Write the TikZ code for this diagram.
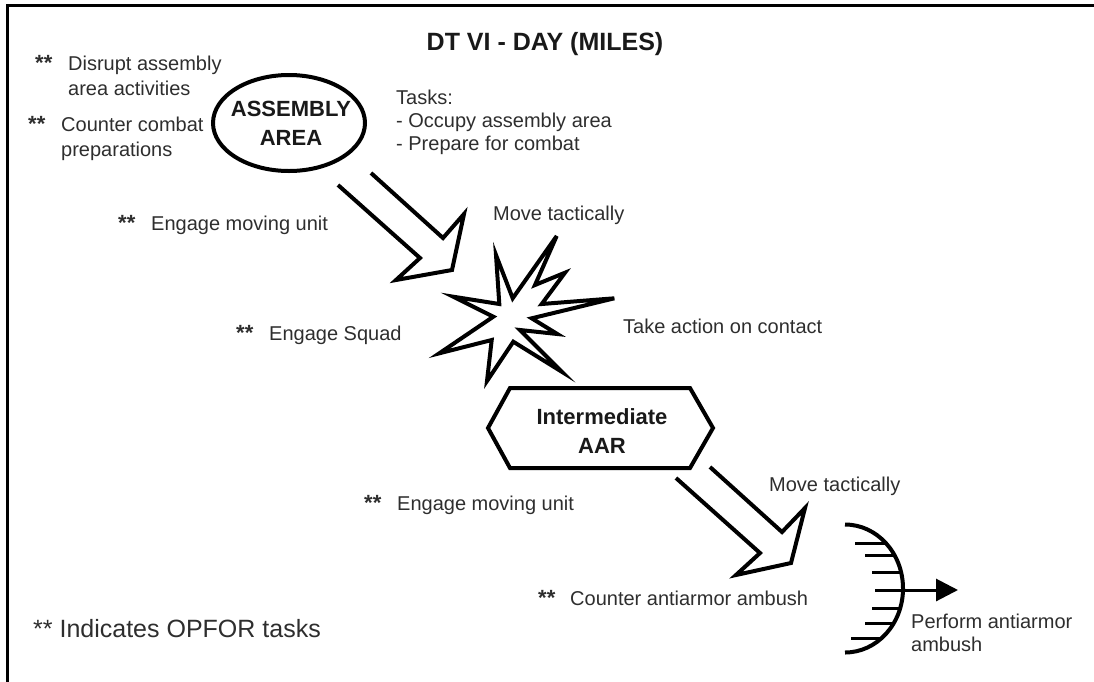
\documentclass[tikz,border=0pt]{standalone}
\usepackage{fontspec}
\setmainfont{Liberation Sans}
\usetikzlibrary{shapes.geometric,arrows.meta}
\definecolor{txt}{gray}{0.18}
\newcommand\opst{{\bfseries\fontsize{22}{25}\selectfont **}}
\begin{document}
\begin{tikzpicture}[x=1pt,y=-1pt,
  lbl/.style={inner sep=0pt, anchor=base west, text=txt, font=\fontsize{20}{25}\selectfont},
  lblt/.style={lbl, font=\fontsize{20}{23}\selectfont},
  nodetext/.style={text=black!90, font=\bfseries\fontsize{22}{29}\selectfont, align=center},
  shapeline/.style={line width=4pt, line join=miter, draw=black},
  frameline/.style={line width=3pt, draw=black},
  tick/.style={line width=3pt, draw=black}]
\useasboundingbox (0,0) rectangle (1094,681);
% frame
\draw[frameline] (7,682) -- (7,5) -- (1095,5);
% title
\node[inner sep=0pt, anchor=base, text=black!90, font=\bfseries\fontsize{25}{30}\selectfont] (title) at (545,50) {DT VI - DAY (MILES)};
% OPFOR labels
\node[lbl] (d1) at (35,70) {\begin{tabular}[t]{@{}p{33pt}@{}l@{}}\opst & Disrupt assembly\\ & area activities\end{tabular}};
\node[lbl] (d2) at (28,131) {\begin{tabular}[t]{@{}p{33pt}@{}l@{}}\opst & Counter combat\\ & preparations\end{tabular}};
\node[lbl] (e1) at (118,230) {\makebox[33pt][l]{\opst}Engage moving unit};
\node[lbl] (e2) at (236,340) {\makebox[33pt][l]{\opst}Engage Squad};
\node[lbl] (e3) at (364,510) {\makebox[33pt][l]{\opst}Engage moving unit};
\node[lbl] (e4) at (538,605) {\makebox[32pt][l]{\opst}Counter antiarmor ambush};
% tasks
\node[lblt] (tasks) at (396,104) {\begin{tabular}[t]{@{}l@{}}Tasks:\\- Occupy assembly area\\- Prepare for combat\end{tabular}};
\node[lbl] (mt1) at (493,220) {Move tactically};
\node[lbl] (take) at (623,333) {Take action on contact};
\node[lbl] (mt2) at (769,491) {Move tactically};
\node[lblt] (perf) at (911,628) {\begin{tabular}[t]{@{}l@{}}Perform antiarmor\\ambush\end{tabular}};
\node[lbl, font=\fontsize{25}{30}\selectfont] (legend) at (33,637) {** Indicates OPFOR tasks};
% assembly area
\node[ellipse, shapeline, inner sep=0pt, minimum width=152pt, minimum height=96pt] (aa) at (289,123) {};
\node[nodetext, inner sep=0pt] (aatext) at (291,123) {ASSEMBLY\\AREA};
% intermediate AAR
\node[nodetext, inner sep=0pt] (aar) at (602,431) {Intermediate\\AAR};
\draw[shapeline] (488,428) -- (510,388) -- (690,388) -- (713,428) -- (690,468) -- (510,468) -- cycle;
% hollow arrows
\draw[shapeline] (338,185) -- (420,258) -- (396,280) -- (452,270) -- (464,214) -- (443,238) -- (371,173);
\draw[shapeline] (676,478) -- (760,553) -- (736,575) -- (791,563) -- (805,508) -- (782,532) -- (710,467);
% contact star
\draw[shapeline, fill=white] (556.7,236) -- (535,285) -- (565,272.7) -- (541.7,304) -- (614.3,298.3) -- (531.7,318.3) -- (557.3,334) -- (520,330) -- (561.7,371.7) -- (513.3,341.7) -- (487,381) -- (491.7,340) -- (439.3,353.3) -- (493.3,316.7) -- (453.3,296.7) -- (499.3,304) -- (496,255) -- (512.7,298.3) -- cycle;
% ambush
\draw[line width=4pt] (845,524.5) arc[start angle=-90, end angle=90, x radius=58, y radius=64];
\draw[tick] (855,543) -- (886,543);
\draw[tick] (865,555) -- (894,555);
\draw[tick] (872,572) -- (901,572);
\draw[tick] (872,608) -- (900,608);
\draw[tick] (865,623) -- (894,623);
\draw[tick] (851,638) -- (882,638);
\coordinate (amb) at (875,590);
\coordinate (ambend) at (958,590);
\draw[tick, -{Triangle[length=22pt,width=22pt]}] (amb) -- (ambend);
\end{tikzpicture}
\end{document}
